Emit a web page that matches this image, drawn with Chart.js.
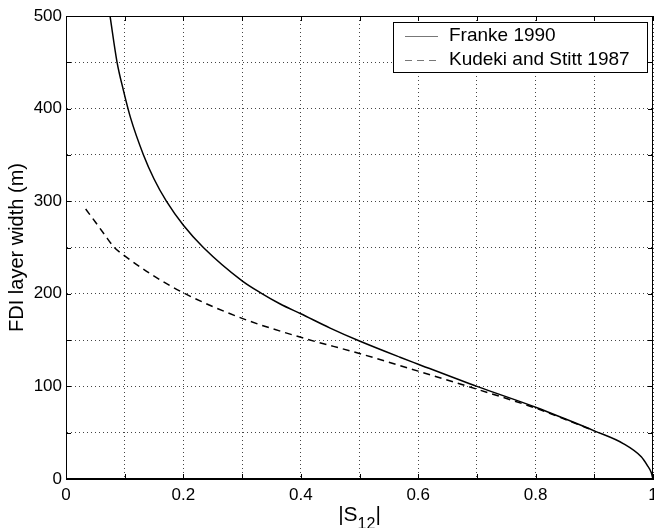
<!DOCTYPE html>
<html>
<head>
<meta charset="utf-8">
<script src="https://cdn.jsdelivr.net/npm/chart.js@4/dist/chart.umd.min.js"></script>
<style>
  body { margin: 0; background: #fff; }
</style>
</head>
<body>
<canvas id="chart" width="654" height="528"></canvas>
<script>
    // Data
    const seriesNames = ["Franke 1990", "Kudeki and Stitt 1987"];
    const frankeX = [0.075, 0.087, 0.0977, 0.11, 0.132, 0.15, 0.171, 0.2, 0.234, 0.3, 0.333, 0.365, 0.4, 0.45, 0.5, 0.569, 0.6, 0.7, 0.8, 0.85, 0.9, 0.95, 0.98, 0.99, 0.997, 1.0];
    const frankeY = [500, 450, 420, 390, 350, 324, 300, 274, 250, 214, 200.5, 189, 178.5, 163, 149, 131.5, 124, 100, 77.5, 65, 52, 38, 24, 15, 7, 0];
    const kudekiX = [0.0335, 0.05, 0.065, 0.0823, 0.1, 0.143, 0.2, 0.3, 0.4, 0.5, 0.6, 0.7, 0.8, 0.85, 0.9];
    const kudekiY = [291.5, 277.5, 264.5, 250, 241, 222, 201, 173.5, 153, 135.5, 116.5, 97, 76.5, 64.5, 52];
    const xTicks = [0, 0.2, 0.4, 0.6, 0.8, 1];
    const yTicks = [0, 100, 200, 300, 400, 500];

    const FONT = "'Liberation Sans', Arial, Helvetica, sans-serif";
    const ctx = document.getElementById("chart").getContext("2d");

    function toPoints(xs, ys) {
      return xs.map((x, i) => ({ x: x, y: ys[i] }));
    }

    // Box, inward ticks, legend and axis titles (MATLAB style)
    const framePlugin = {
      id: "frame",
      afterDraw(chart) {
        const c = chart.ctx;
        const a = chart.chartArea;
        const xs = chart.scales.x;
        const ys = chart.scales.y;
        c.save();
        c.strokeStyle = "#000";
        c.lineWidth = 1;
        c.setLineDash([]);
        c.strokeRect(a.left + 0.5, a.top + 0.5, a.right - a.left - 1, a.bottom - a.top - 1);

        // inward tick marks
        c.beginPath();
        xs.ticks.forEach((t) => {
          const px = Math.round(xs.getPixelForValue(t.value)) + 0.5;
          c.moveTo(px, a.bottom); c.lineTo(px, a.bottom - 5);
          c.moveTo(px, a.top); c.lineTo(px, a.top + 5);
        });
        ys.ticks.forEach((t) => {
          const py = Math.round(ys.getPixelForValue(t.value)) + 0.5;
          c.moveTo(a.left, py); c.lineTo(a.left + 5, py);
          c.moveTo(a.right, py); c.lineTo(a.right - 5, py);
        });
        c.stroke();

        // legend
        const lx = 393, ly = 22, lw = 254, lh = 50;
        c.fillStyle = "#fff";
        c.fillRect(lx, ly, lw, lh);
        c.strokeRect(lx + 0.5, ly + 0.5, lw, lh);
        c.strokeStyle = "#777";
        c.beginPath(); c.moveTo(405, 36.5); c.lineTo(438, 36.5); c.stroke();
        c.setLineDash([7, 5]);
        c.beginPath(); c.moveTo(405, 60.5); c.lineTo(440, 60.5); c.stroke();
        c.setLineDash([]);
        c.fillStyle = "#000";
        c.font = "19px " + FONT;
        c.textAlign = "left";
        c.textBaseline = "middle";
        c.fillText(seriesNames[0], 449, 36);
        c.fillText(seriesNames[1], 449, 60);

        // y title
        c.save();
        c.translate(17, (a.top + a.bottom) / 2);
        c.rotate(-Math.PI / 2);
        c.textAlign = "center";
        c.font = "20px " + FONT;
        c.fillText("FDI layer width (m)", 0, 0);
        c.restore();

        // x title |S12| with subscript
        c.font = "21px " + FONT;
        c.textAlign = "left";
        c.textBaseline = "alphabetic";
        const w1 = c.measureText("|S").width;
        c.font = "16px " + FONT;
        const w2 = c.measureText("12").width;
        c.font = "21px " + FONT;
        const w3 = c.measureText("|").width;
        let tx = (a.left + a.right) / 2 - (w1 + w2 + w3) / 2;
        c.fillText("|S", tx, 521);
        c.font = "16px " + FONT;
        c.fillText("12", tx + w1, 529);
        c.font = "21px " + FONT;
        c.fillText("|", tx + w1 + w2, 521);
        c.restore();
      }
    };

    const chart = new Chart(ctx, {
      type: "scatter",
      data: {
        datasets: [
          {
            label: seriesNames[0],
            data: toPoints(frankeX, frankeY),
            showLine: true,
            borderColor: "#000",
            borderWidth: 1.5,
            pointRadius: 0,
            cubicInterpolationMode: "monotone"
          },
          {
            label: seriesNames[1],
            data: toPoints(kudekiX, kudekiY),
            showLine: true,
            borderColor: "#000",
            borderWidth: 1.5,
            borderDash: [7, 5],
            pointRadius: 0,
            cubicInterpolationMode: "monotone"
          }
        ]
      },
      options: {
        responsive: false,
        animation: false,
        layout: { padding: { top: 16, right: 1, left: 0, bottom: 0 } },
        plugins: {
          legend: { display: false },
          tooltip: { enabled: false }
        },
        scales: {
          x: {
            type: "linear",
            min: 0,
            max: 1,
            afterFit(s) { s.height = 49; s.paddingLeft = 0; s.paddingRight = 0; },
            ticks: {
              stepSize: 0.1,
              padding: 6,
              color: "#000",
              font: { family: FONT, size: 17 },
              maxRotation: 0,
              autoSkip: false,
              callback: (v) => {
                const r = Math.round(v * 10) / 10;
                return xTicks.includes(r) ? String(r) : "";
              }
            },
            grid: { color: "#444", lineWidth: 1, drawTicks: false },
            border: { display: true, color: "#000", dash: [1, 3] }
          },
          y: {
            type: "linear",
            min: 0,
            max: 500,
            afterFit(s) { s.width = 66; s.paddingTop = 0; s.paddingBottom = 0; },
            ticks: {
              stepSize: 50,
              padding: 4,
              color: "#000",
              font: { family: FONT, size: 17 },
              autoSkip: false,
              callback: (v) => (yTicks.includes(v) ? String(v) : "")
            },
            grid: { color: "#444", lineWidth: 1, drawTicks: false },
            border: { display: true, color: "#000", dash: [1, 3] }
          }
        }
      },
      plugins: [framePlugin]
    });
</script>
</body>
</html>
